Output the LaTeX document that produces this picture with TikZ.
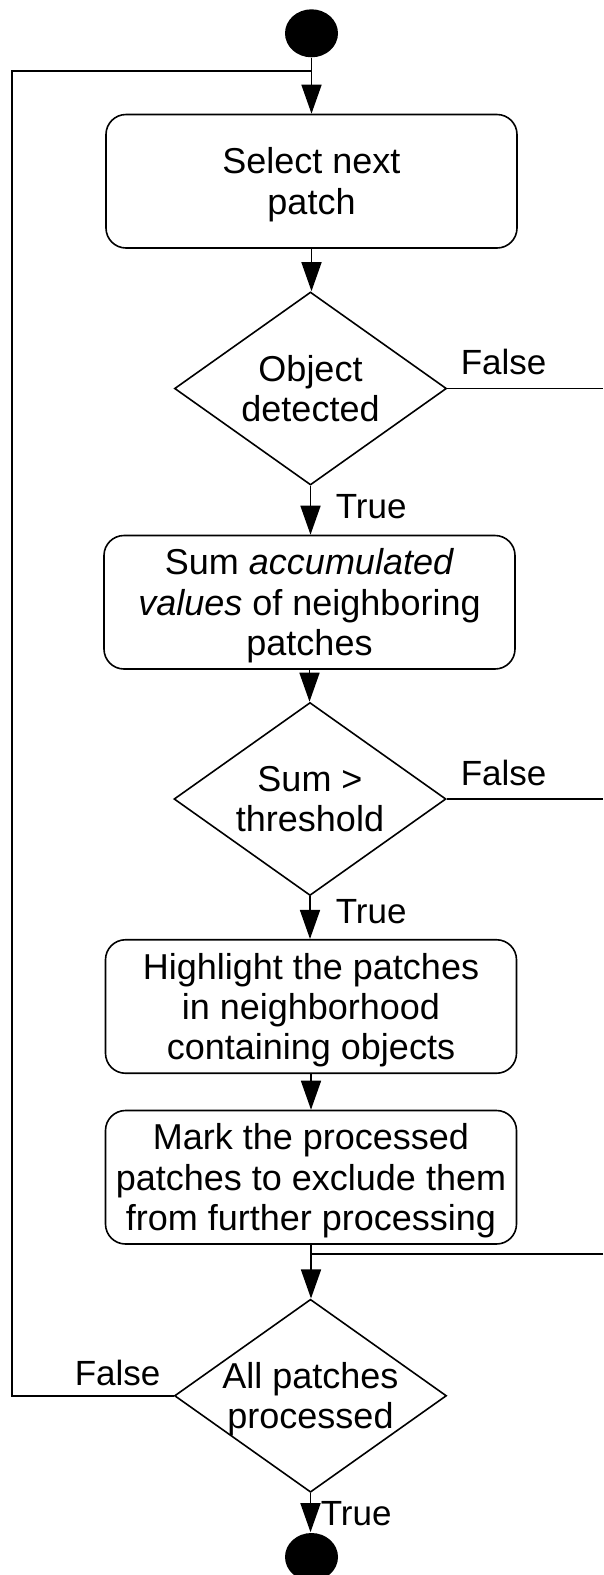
\documentclass[tikz,border=0pt]{standalone}
\usepackage{fontspec}
\setmainfont{Liberation Sans}
\usetikzlibrary{arrows.meta,shapes.geometric}
\begin{document}
\begin{tikzpicture}[x=1pt,y=-1pt,
  line width=1.6pt,
  txt/.style={font=\fontsize{36}{40.2}\selectfont, align=center, inner sep=0pt},
  proc/.style={draw, rounded corners=20pt, minimum width=411pt, minimum height=133.5pt, inner sep=0pt},
  dec/.style={draw, diamond, minimum width=272pt, minimum height=193pt, inner sep=0pt},
  term/.style={fill=black, ellipse, minimum width=53pt, minimum height=48pt, inner sep=0pt},
  flow/.style={-{Triangle[width=20pt,length=29pt]}},
  lbl/.style={font=\fontsize{35}{40.2}\selectfont, inner sep=0pt, anchor=base west}]
\useasboundingbox (0,0) rectangle (603,1575);
% nodes
\node[term] (start) at (311.5,33.3) {};
\node[proc] (b1) at (311.5,181.25) {};
\node[txt, yshift=-3.5pt] (bt1) at (b1) {Select next\\patch};
\node[dec] (d1) at (310.5,388.5) {};
\node[txt] (t1) at (d1) {Object\\detected};
\node[proc] (b2) at (309.5,602.25) {};
\node[txt, yshift=-3.5pt] (bt2) at (b2) {Sum \textit{accumulated}\\\textit{values} of neighboring\\patches};
\node[dec] (d2) at (310,799) {};
\node[txt] (t2) at (d2) {Sum >\\threshold};
\node[proc] (b3) at (311,1006.5) {};
\node[txt, yshift=-3.5pt] (bt3) at (b3) {Highlight the patches\\in neighborhood\\containing objects};
\node[proc] (b4) at (311,1177.25) {};
\node[txt, yshift=-3.5pt] (bt4) at (b4) {Mark the processed\\patches to exclude them\\from further processing};
\node[dec] (d3) at (310.5,1395.75) {};
\node[txt, yshift=-3.5pt] (t3) at (d3) {All patches\\processed};
\node[term] (end) at (311.5,1557) {};
% labels
\node[lbl] (f1) at (460,374) {False};
\node[lbl] (f2) at (460,785) {False};
\node[lbl] (f3) at (74,1385) {False};
\node[lbl] (tr1) at (335,518) {True};
\node[lbl] (tr2) at (335,923) {True};
\node[lbl] (tr3) at (320,1525) {True};
% coordinates
\coordinate (j1) at (311.5,70.7);
\coordinate (lc) at (12,70.7);
\coordinate (r1) at (603,388.5);
\coordinate (r2) at (603,799);
\coordinate (r3) at (603,1254);
\coordinate (j3) at (311,1254);
% connectors
\draw[flow] (start.south) -- (start.south |- b1.north);
\draw[flow] (b1.south) -- (b1.south |- d1.north);
\draw[flow] (d1.south) -- (d1.south |- b2.north);
\draw[flow] (b2.south) -- (b2.south |- d2.north);
\draw[flow] (d2.south) -- (d2.south |- b3.north);
\draw[flow] (b3.south) -- (b3.south |- b4.north);
\draw[flow] (b4.south) -- (b4.south |- d3.north);
\draw[flow] (d3.south) -- (d3.south |- end.north);
\draw (d1.east) -- (r1);
\draw (d2.east) -- (r2);
\draw (r3) -- (j3);
\draw (d3.west) -| (lc) -- (j1);
\end{tikzpicture}
\end{document}
